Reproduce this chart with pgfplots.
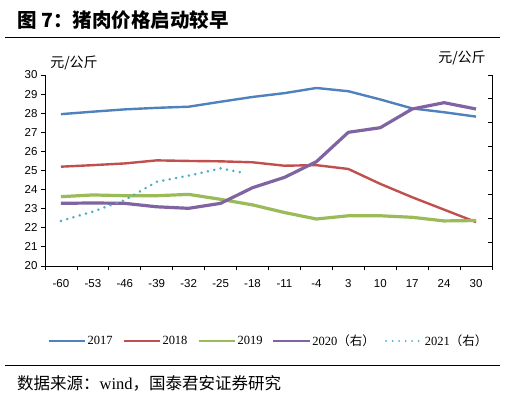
\documentclass[border=0pt]{standalone}
\usepackage{pgfplots}
\pgfplotsset{compat=1.18}
\usepackage{fontspec}
\setmainfont{Liberation Serif}
\newfontfamily\cjk{Noto Sans CJK SC}
\newfontfamily\sans{Liberation Sans}
\definecolor{c17}{RGB}{79,129,189}
\definecolor{c18}{RGB}{192,80,77}
\definecolor{c19}{RGB}{155,187,89}
\definecolor{c20}{RGB}{128,100,162}
\definecolor{c21}{RGB}{75,172,198}
\begin{document}
\begin{tikzpicture}[x=1pt,y=1pt]
\path[use as bounding box] (0,0) rectangle (514,396);
\node[anchor=west,inner sep=0] at (17,376) {\cjk\bfseries\fontsize{19.5}{22}\selectfont 图 7：猪肉价格启动较早};
\draw[line width=1pt] (5,358) -- (500,358);
\draw[line width=1pt] (5,30) -- (500,30);
\node[anchor=west,inner sep=0] at (17,13) {\cjk\fontsize{16.5}{19}\selectfont 数据来源：{\rmfamily wind}，国泰君安证券研究};
\node[anchor=center,inner sep=0] at (74,333) {\cjk\fontsize{14}{16}\selectfont 元/公斤};
\node[anchor=center,inner sep=0] at (462,338) {\cjk\fontsize{14}{16}\selectfont 元/公斤};
\begin{axis}[
  at={(45pt,130pt)}, anchor=south west, scale only axis,
  width=447pt, height=191pt,
  xmin=-0.5, xmax=13.5, ymin=20, ymax=30,
  axis x line*=bottom, axis y line*=left,
  axis line style={-, draw=black, line width=0.8pt},
  xtick={0,...,13},
  xticklabels={-60,-53,-46,-39,-32,-25,-18,-11,-4,3,10,17,24,30},
  major x tick style={draw=none},
  minor xtick={-0.5,0.5,...,13.5},
  ytick={20,21,...,30},
  tick align=outside, major tick length=4pt, minor tick length=4pt,
  tick style={black, line width=0.8pt},
  ticklabel style={font=\sans\fontsize{11.5}{13}\selectfont},
  /pgf/number format/assume math mode=true,
  xticklabel style={yshift=-6pt},
  legend style={at={(0.5,-0.393)}, anchor=center, draw=none, fill=none,
    legend columns=5, font=\fontsize{12.5}{14}\selectfont,
    inner sep=0pt, /tikz/every even column/.append style={column sep=8pt}},
  legend image code/.code={\draw[#1, line width=2pt] (0pt,0pt) -- (36pt,0pt);},
  clip=false,
]
\addplot[c17, line width=2.4pt, line join=round] coordinates {
(0,27.95)(1,28.08)(2,28.2)(3,28.28)(4,28.34)(5,28.6)(6,28.85)(7,29.05)(8,29.32)(9,29.15)(10,28.72)(11,28.25)(12,28.05)(13,27.82)};
\addlegendentry{2017}
\addplot[c18, line width=2.4pt, line join=round] coordinates {
(0,25.2)(1,25.28)(2,25.37)(3,25.53)(4,25.5)(5,25.48)(6,25.43)(7,25.25)(8,25.28)(9,25.08)(10,24.3)(11,23.6)(12,22.95)(13,22.3)};
\addlegendentry{2018}
\addplot[c19, line width=3.2pt, line join=round] coordinates {
(0,23.63)(1,23.72)(2,23.68)(3,23.68)(4,23.75)(5,23.49)(6,23.2)(7,22.8)(8,22.46)(9,22.63)(10,22.63)(11,22.55)(12,22.36)(13,22.38)};
\addlegendentry{2019}
\addplot[c20, line width=3.2pt, line join=round] coordinates {
(0,23.28)(1,23.3)(2,23.28)(3,23.1)(4,23.02)(5,23.28)(6,24.1)(7,24.64)(8,25.46)(9,27.0)(10,27.24)(11,28.22)(12,28.55)(13,28.22)};
\addlegendentry{2020{\cjk（右）}}
\addplot[c21, line width=2.8pt, line cap=round, dash pattern=on 0.01pt off 6.5pt] coordinates {
(0,22.36)(1,22.85)(2,23.45)(3,24.41)(4,24.73)(5,25.11)(5.8,24.85)};
\addlegendentry{2021{\cjk（右）}}
\end{axis}
\begin{axis}[
  at={(45pt,130pt)}, anchor=south west, scale only axis,
  width=447pt, height=191pt,
  xmin=-0.5, xmax=13.5, ymin=0, ymax=8,
  axis y line*=right, axis x line=none,
  axis line style={-, draw=black, line width=0.8pt},
  ytick={0,...,8}, yticklabels={},
  tick align=inside, major tick length=4pt,
  tick style={black, line width=0.8pt},
]
\end{axis}
\end{tikzpicture}
\end{document}
